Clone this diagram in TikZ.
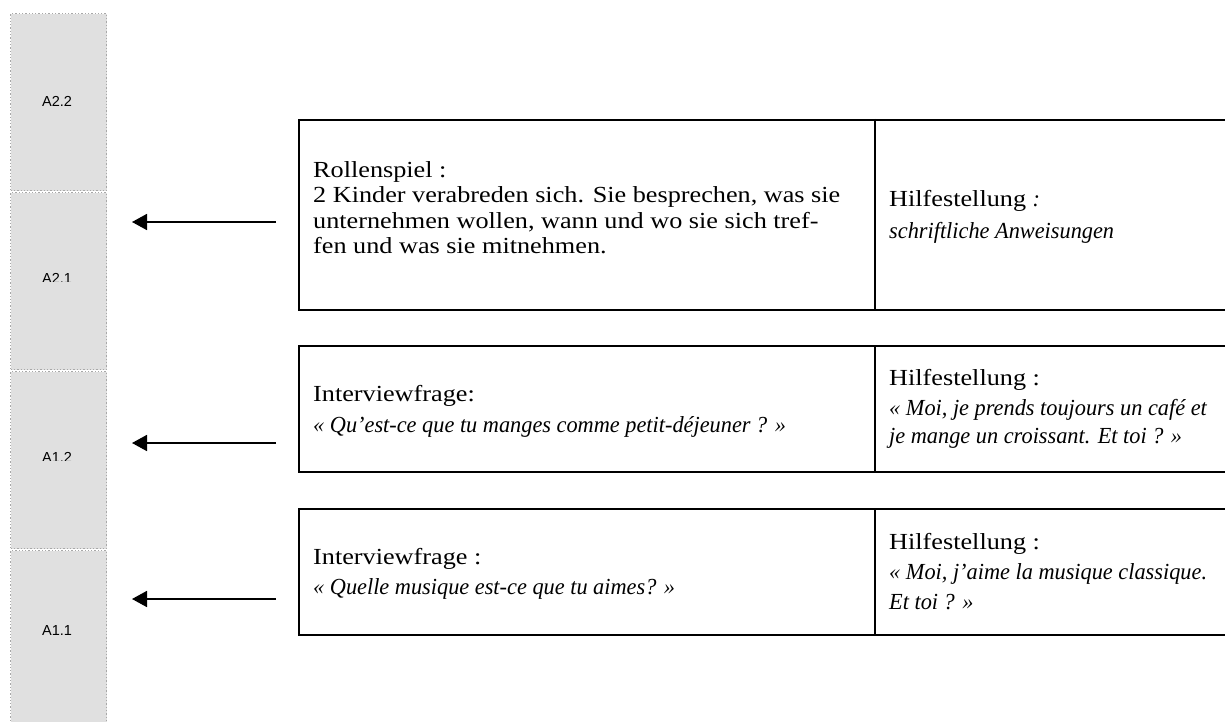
\documentclass[tikz,border=0pt]{standalone}
\usepackage{fontspec}
\setmainfont{Liberation Serif}[FakeStretch=1.14]
\newfontfamily\itfam{Liberation Serif}[FakeStretch=0.97]
\newfontfamily\labfam{Liberation Sans}
\usetikzlibrary{arrows.meta}
\definecolor{colfill}{HTML}{E0E0E0}
\definecolor{coldot}{HTML}{A8A8A8}
\tikzset{
  seg/.style={fill=colfill, draw=coldot, line width=1.3pt, dotted, inner sep=0pt, anchor=north west, minimum width=96pt},
  lab/.style={font=\labfam\fontsize{14.5}{16}\selectfont, inner sep=0pt, anchor=base},
  frame/.style={draw=black, line width=2pt, inner sep=0pt, anchor=north west, minimum width=960pt},
  txt/.style={font=\fontsize{23}{25}\selectfont, inner sep=0pt, anchor=base west},
  itxt/.style={font=\itfam\itshape\fontsize{23}{25}\selectfont, inner sep=0pt, anchor=base west},
  arr/.style={-{Triangle[length=15pt,width=16pt]}, line width=1.7pt},
}
\begin{document}
\begin{tikzpicture}[x=1pt,y=-1pt]
\clip (0,0) rectangle (1225,722);
\fill[white] (0,0) rectangle (1225,722);
% left column
\node[seg, minimum height=177pt] (c22) at (10,13) {};
\node[seg, minimum height=177pt] (c21) at (10,192) {};
\node[seg, minimum height=177pt] (c12) at (10,371) {};
\node[seg, minimum height=200pt] (c11) at (10,550) {};
\begin{scope}
  \clip (0,0) rectangle (120,105.5);
  \node[lab] (l22) at (57,107) {A2.2};
\end{scope}
\begin{scope}
  \clip (0,192) rectangle (120,281.5);
  \node[lab] (l21) at (57,283) {A2.1};
\end{scope}
\begin{scope}
  \clip (0,371) rectangle (120,460.5);
  \node[lab] (l12) at (57,462) {A1.2};
\end{scope}
\node[lab] (l11) at (57,635) {A1.1};
% boxes
\node[frame, minimum height=190pt] (b1) at (298,119) {};
\node[frame, minimum height=126pt] (b2) at (298,345) {};
\node[frame, minimum height=126pt] (b3) at (298,508) {};
\coordinate (dv) at (875,0);
\draw[line width=2pt] (b1.north -| dv) -- (b1.south -| dv);
\draw[line width=2pt] (b2.north -| dv) -- (b2.south -| dv);
\draw[line width=2pt] (b3.north -| dv) -- (b3.south -| dv);
% texts box 1
\node[txt] (r1) at (313,178) {Rollenspiel :};
\node[txt] (r2) at (313,203) {2 Kinder verabreden sich. Sie besprechen, was sie};
\node[txt] (r3) at (313,228) {unternehmen wollen, wann und wo sie sich tref-};
\node[txt] (r4) at (313,253) {fen und was sie mitnehmen.};
\node[txt] (h1) at (889,207) {Hilfestellung {\itfam\itshape :}};
\node[itxt] (h1b) at (889,238) {schriftliche Anweisungen};
% texts box 2
\node[txt] (q2) at (313,401) {Interviewfrage:};
\node[itxt] (q2b) at (313,432) {« Qu’est-ce que tu manges comme petit-déjeuner ? »};
\node[txt] (h2) at (889,385) {Hilfestellung :};
\node[itxt] (h2b) at (889,415) {« Moi, je prends toujours un café et};
\node[itxt] (h2c) at (889,443) {je mange un croissant. Et toi ? »};
% texts box 3
\node[txt] (q3) at (313,564) {Interviewfrage :};
\node[itxt] (q3b) at (313,594) {« Quelle musique est-ce que tu aimes? »};
\node[txt] (h3) at (889,549) {Hilfestellung :};
\node[itxt] (h3b) at (889,579) {« Moi, j’aime la musique classique.};
\node[itxt] (h3c) at (889,609) {Et toi ? »};
% arrows
\coordinate (s1) at (276,222);
\coordinate (e1) at (132,222);
\coordinate (s2) at (276,443);
\coordinate (e2) at (132,443);
\coordinate (s3) at (276,599);
\coordinate (e3) at (132,599);
\draw[arr] (s1) -- (e1);
\draw[arr] (s2) -- (e2);
\draw[arr] (s3) -- (e3);
\end{tikzpicture}
\end{document}
